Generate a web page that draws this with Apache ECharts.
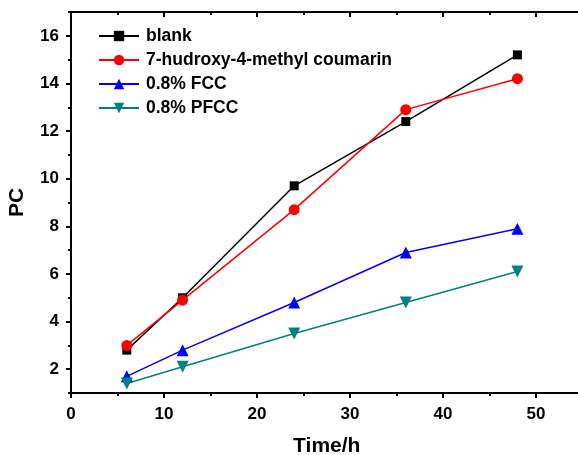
<!DOCTYPE html>
<html>
<head>
<meta charset="utf-8">
<script src="https://cdn.jsdelivr.net/npm/echarts@6/dist/echarts.min.js"></script>
<style>
html,body{margin:0;padding:0;background:#fff;}
#chart{width:578px;height:455px;}
</style>
</head>
<body>
<div id="chart"></div>
<script>
// Sampling times (h)
const times = [6, 12, 24, 36, 48];
// PC values per treatment
const blank = [2.8, 5.0, 9.7, 12.4, 15.2];
const coumarin = [3.0, 4.9, 8.7, 12.9, 14.2];
const fcc = [1.7, 2.8, 4.8, 6.9, 7.9];
const pfcc = [1.4, 2.1, 3.5, 4.8, 6.1];
const seriesNames = ['blank', '7-hudroxy-4-methyl coumarin', '0.8% FCC', '0.8% PFCC'];
// Y axis: labelled major ticks and unlabelled minor ticks
const yMajorTicks = [2, 4, 6, 8, 10, 12, 14, 16];
const yMinorTicks = [1, 3, 5, 7, 9, 11, 13, 15, 17];

const font = 'Liberation Sans, Arial, sans-serif';
const pair = (arr) => times.map((t, i) => [t, arr[i]]);

const axisLine = { show: true, onZero: false, lineStyle: { color: '#000', width: 2 } };
const tickStyle = { color: '#000', width: 2 };
const labelFont = { fontFamily: font, fontWeight: 'bold', fontSize: 17, color: '#000' };
const titleFont = { fontFamily: font, fontWeight: 'bold', fontSize: 21, color: '#000' };

function mkSeries(name, data, color, symbol, size) {
  return {
    name, type: 'line', data: pair(data),
    xAxisIndex: 0, yAxisIndex: 0,
    symbol, symbolSize: size,
    lineStyle: { color, width: 1.5 },
    itemStyle: { color },
    emphasis: { disabled: true }
  };
}

const chart = echarts.init(document.getElementById('chart'), null, { renderer: 'canvas' });
chart.setOption({
  animation: false,
  backgroundColor: '#fff',
  grid: { left: 71, top: 12, right: -4.5, bottom: 62, containLabel: false, outerBoundsMode: 'none' },
  legend: {
    left: 98, top: 27, orient: 'vertical', padding: 0,
    itemWidth: 40, itemHeight: 13, itemGap: 6,
    textStyle: Object.assign({}, labelFont, { fontSize: 17.5, padding: [0, 0, 0, 2] }),
    data: seriesNames
  },
  xAxis: [{
    type: 'value', min: 0, max: 55, interval: 10,
    name: 'Time/h', nameLocation: 'middle', nameGap: 43,
    nameTextStyle: titleFont,
    axisLine,
    axisTick: { show: true, inside: false, length: 5, lineStyle: tickStyle },
    minorTick: { show: true, splitNumber: 2, length: 3, lineStyle: tickStyle },
    axisLabel: Object.assign({}, labelFont, { margin: 13, formatter: v => (v > 50 ? '' : v) }),
    splitLine: { show: false }
  }, {
    type: 'value', position: 'top', min: 0, max: 55, interval: 10,
    axisLine,
    axisTick: { show: true, inside: true, length: 5, lineStyle: tickStyle },
    minorTick: { show: true, splitNumber: 2, length: 3, lineStyle: tickStyle },
    axisLabel: { show: false },
    splitLine: { show: false }
  }],
  yAxis: [{
    type: 'value', min: 1, max: 17, interval: 1,
    name: 'PC', nameLocation: 'middle', nameGap: 43, nameRotate: 90,
    nameTextStyle: titleFont,
    axisLine,
    axisTick: { show: true, inside: false, length: 5, lineStyle: tickStyle, customValues: yMajorTicks },
    axisLabel: Object.assign({}, labelFont, { margin: 12, customValues: yMajorTicks }),
    splitLine: { show: false }
  }, {
    type: 'value', position: 'left', min: 1, max: 17, interval: 1,
    axisLine: { show: false },
    axisTick: { show: true, inside: false, length: 3, lineStyle: tickStyle, customValues: yMinorTicks },
    axisLabel: { show: false },
    splitLine: { show: false }
  }],
  series: [
    mkSeries(seriesNames[0], blank, '#000000', 'rect', 9),
    mkSeries(seriesNames[1], coumarin, '#ff0000', 'circle', 11),
    mkSeries(seriesNames[2], fcc, '#0000ff', 'triangle', 12),
    mkSeries(seriesNames[3], pfcc, '#008080', 'path://M0,0 L10,0 L5,9 Z', 12)
  ]
});
</script>
</body>
</html>
